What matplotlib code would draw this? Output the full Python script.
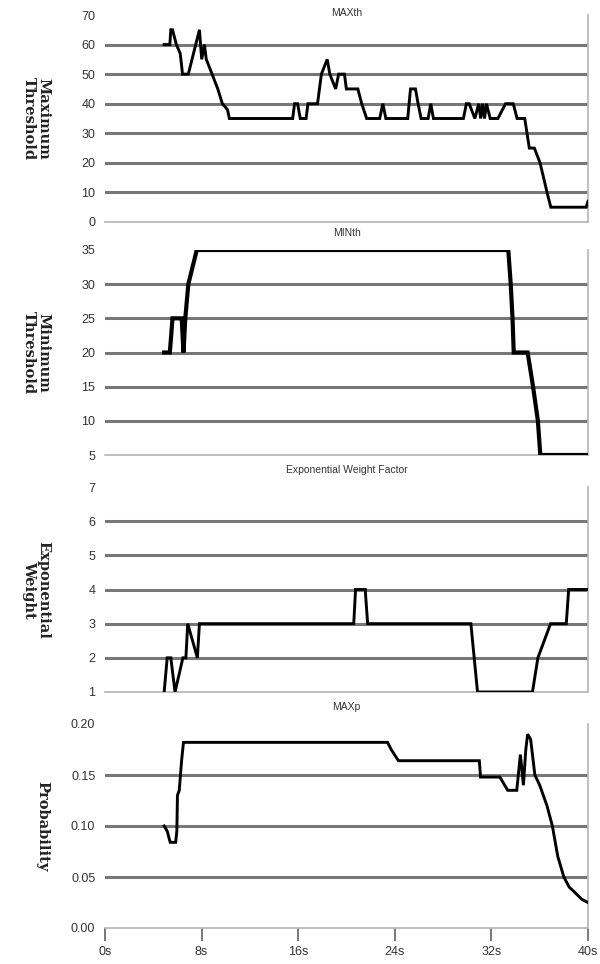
"""
plot.py
-------
Four stacked step traces of RED parameters over a 40 s run:
MAXth, MINth, exponential weight factor and MAXp.
"""

import matplotlib
matplotlib.use("Agg")
import matplotlib.pyplot as plt
import matplotlib.ticker as mticker

# ── Data ────────────────────────────────────────────────────────────────────
maxth_t = [4.9, 5.37, 5.45, 5.59, 5.91, 6.23, 6.42, 6.90, 7.82, 8.01, 8.23,
           8.39, 8.87, 9.34, 9.72, 10.14, 10.30, 15.54, 15.70, 15.95, 16.17,
           16.65, 16.81, 17.60, 17.76, 17.92, 18.40, 18.62, 19.10, 19.35,
           19.83, 19.99, 20.94, 21.26, 21.67, 22.75, 23.01, 23.26, 25.07,
           25.30, 25.71, 25.93, 26.18, 26.76, 26.98, 27.20, 29.68, 29.93,
           30.16, 30.63, 30.95, 31.11, 31.27, 31.43, 31.59, 31.90, 32.54,
           33.17, 33.81, 34.13, 34.76, 35.14, 35.56, 36.03, 36.61, 36.92,
           39.85, 40.0]
maxth_v = [60, 60, 65, 65, 60, 57, 50, 50, 65, 55, 60,
           55, 50, 45, 40, 38, 35, 35, 40, 40, 35,
           35, 40, 40, 45, 50, 55, 50, 45, 50,
           50, 45, 45, 40, 35, 35, 40, 35, 35,
           45, 45, 40, 35, 35, 40, 35, 35, 40,
           40, 35, 40, 35, 40, 35, 40, 35, 35,
           40, 40, 35, 35, 25, 25, 20, 10, 5,
           5, 7]

minth_t = [4.9, 5.37, 5.59, 6.35, 6.50, 6.65, 6.90, 7.60, 33.40, 33.60,
           33.75, 33.85, 35.0, 35.45, 35.85, 36.05, 40.0]
minth_v = [20, 20, 25, 25, 20, 25, 30, 35, 35, 30,
           25, 20, 20, 15, 10, 5, 5]

ewf_t = [4.9, 5.15, 5.45, 5.80, 6.45, 6.70, 6.85, 7.65, 7.82, 20.60, 20.75,
         21.55, 21.75, 30.30, 30.85, 35.40, 35.85, 36.90, 38.20, 38.40, 40.0]
ewf_v = [1, 2, 2, 1, 2, 2, 3, 2, 3, 3, 4,
         4, 3, 3, 1, 1, 2, 3, 3, 4, 4]

maxp_t = [4.9, 5.15, 5.40, 5.85, 5.95, 6.00, 6.15, 6.25, 6.35, 6.50,
          23.40, 23.70, 24.30, 31.00, 31.10, 32.70, 33.10, 33.35, 34.10,
          34.40, 34.65, 34.85, 35.00, 35.25, 35.60, 36.00, 36.60, 37.05,
          37.50, 38.00, 38.45, 38.90, 39.50, 40.0]
maxp_v = [0.100, 0.095, 0.084, 0.084, 0.095, 0.130, 0.135, 0.150, 0.165, 0.182,
          0.182, 0.175, 0.164, 0.164, 0.148, 0.148, 0.140, 0.135, 0.135,
          0.170, 0.140, 0.175, 0.190, 0.185, 0.150, 0.140, 0.120, 0.100,
          0.070, 0.050, 0.040, 0.035, 0.028, 0.025]

titles = ["MAXth", "MINth", "Exponential Weight Factor", "MAXp"]
ylabels = ["Maximum\nThreshold", "Minimum\nThreshold",
           "Exponential\nWeight", "Probability"]
yticks = [[0, 10, 20, 30, 40, 50, 60, 70],
          [5, 10, 15, 20, 25, 30, 35],
          [1, 2, 3, 4, 5, 6, 7],
          [0.00, 0.05, 0.10, 0.15, 0.20]]
xticks = [0, 8, 16, 24, 32, 40]
xticklabels = ["0s", "8s", "16s", "24s", "32s", "40s"]

series = [(maxth_t, maxth_v), (minth_t, minth_v), (ewf_t, ewf_v), (maxp_t, maxp_v)]

# ── Layout (pixels of a 600 x 964 canvas) ───────────────────────────────────
W, H = 600, 964
LEFT, RIGHT = 105, 588
PANELS = [(15, 222), (250, 455), (487, 692), (724, 928)]   # (top, bottom)
GRID = "#777777"
AXIS = "#b4b4b4"
TICK_TXT = "#333333"

fig = plt.figure(figsize=(W / 100, H / 100), dpi=100)
fig.patch.set_facecolor("white")

for i, ((top, bottom), (t, v)) in enumerate(zip(PANELS, series)):
    ax = fig.add_axes([LEFT / W, 1 - bottom / H, (RIGHT - LEFT) / W, (bottom - top) / H])
    lw = 3.0 if i == 1 else 2.1
    ax.plot(t, v, color="black", lw=lw, solid_joinstyle="miter", zorder=3)

    ticks = yticks[i]
    ax.set_xlim(0, 40)
    ax.set_ylim(ticks[0], ticks[-1])
    ax.set_yticks(ticks)
    if i == 3:
        ax.yaxis.set_major_formatter(mticker.FormatStrFormatter("%.2f"))

    # interior gridlines only
    for yv in ticks[1:-1]:
        ax.axhline(yv, color=GRID, lw=2.2, zorder=1)

    for s in ["top", "left"]:
        ax.spines[s].set_visible(False)
    ax.spines["bottom"].set_color(AXIS)
    ax.spines["bottom"].set_linewidth(1.2)
    ax.spines["right"].set_color(AXIS)
    ax.spines["right"].set_linewidth(1.2)

    ax.tick_params(axis="y", length=0, pad=7, labelsize=9, labelcolor=TICK_TXT)
    for lab in ax.get_yticklabels():
        lab.set_family("Liberation Sans")

    if i == 3:
        ax.set_xticks(xticks)
        ax.set_xticklabels(xticklabels, family="Liberation Sans")
        ax.tick_params(axis="x", length=9, width=1.2, color="#606060",
                       pad=4, labelsize=9, labelcolor=TICK_TXT)
    else:
        ax.set_xticks([])

    # panel title
    ty = top - 2 if i == 0 else top - 17
    fig.text((LEFT + RIGHT) / 2 / W, 1 - ty / H, titles[i], ha="center", va="center",
             fontsize=7.5, color="#333333", family="Liberation Sans")

    # rotated y label
    lx = 42 if i == 3 else 36
    fig.text(lx / W, 1 - (top + bottom) / 2 / H, ylabels[i], rotation=-90,
             ha="center", va="center", multialignment="center",
             fontsize=10.5, fontweight="bold", family="DejaVu Serif",
             linespacing=1.05, color="#222222")

fig.savefig("out.png", dpi=100, facecolor="white")
